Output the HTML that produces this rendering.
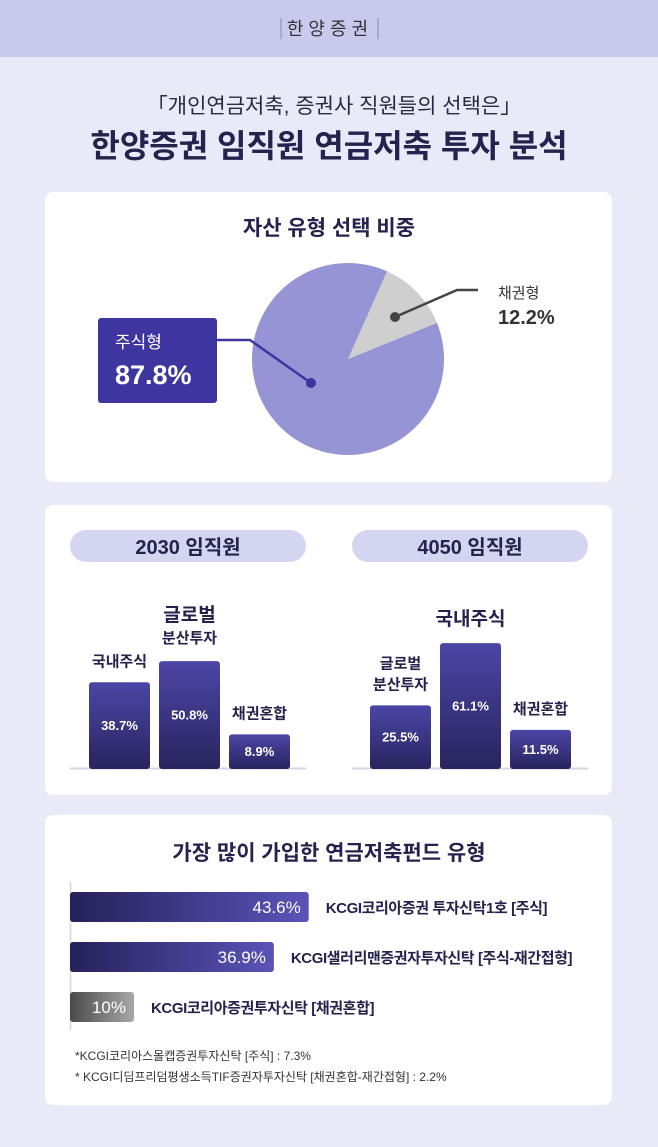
<!DOCTYPE html>
<html><head><meta charset="utf-8"><style>
html,body{margin:0;padding:0;width:658px;height:1147px;overflow:hidden;background:#e9eaf8}
svg{display:block}
text{font-family:"Liberation Sans","Noto Sans CJK KR",sans-serif}
</style></head><body>
<svg id="s" width="658" height="1147" viewBox="0 0 658 1147" xmlns="http://www.w3.org/2000/svg">
<defs>
<linearGradient id="vg" x1="0" y1="0" x2="0" y2="1"><stop offset="0" stop-color="#4c46a6"/><stop offset="1" stop-color="#28245e"/></linearGradient>
<linearGradient id="hg" x1="0" y1="0" x2="1" y2="0"><stop offset="0" stop-color="#25215a"/><stop offset="1" stop-color="#5a54b8"/></linearGradient>
<linearGradient id="gg" x1="0" y1="0" x2="1" y2="0"><stop offset="0" stop-color="#4a4a4a"/><stop offset="1" stop-color="#a8a8a8"/></linearGradient>
</defs>
<rect x="0" y="0" width="658" height="57" fill="#c8c9ec"/>
<g>
<line x1="281" y1="18" x2="281" y2="39" stroke="#8a8aa8" stroke-width="1"/>
<line x1="378" y1="18" x2="378" y2="39" stroke="#8a8aa8" stroke-width="1"/>
<text x="330" y="35" text-anchor="middle" font-size="18" fill="#333" letter-spacing="5">한양증권</text>
</g>
<text x="334" y="113" text-anchor="middle" font-size="21" fill="#2a2a40">「개인연금저축, 증권사 직원들의 선택은」</text>
<text x="329" y="157" text-anchor="middle" font-size="32" font-weight="bold" fill="#24234e">한양증권 임직원 연금저축 투자 분석</text>

<rect x="45" y="192" width="567" height="290" rx="8" fill="#fff"/>
<rect x="45" y="505" width="567" height="290" rx="8" fill="#fff"/>
<rect x="45" y="815" width="567" height="290" rx="8" fill="#fff"/>

<text x="329" y="235" text-anchor="middle" font-size="21" font-weight="bold" fill="#24234e">자산 유형 선택 비중</text>
<g id="pie"></g>
<rect x="98" y="318" width="119" height="85" rx="3" fill="#3e35a0"/>
<text x="115" y="348" font-size="17" fill="#fff">주식형</text>
<text x="115" y="384" font-size="27" font-weight="bold" fill="#fff">87.8%</text>
<polyline points="217,340 250,340 311,383" fill="none" stroke="#3e35a0" stroke-width="2.5"/>
<circle cx="311" cy="383" r="5" fill="#3e35a0"/>
<polyline points="395,317 457,290 478,290" fill="none" stroke="#444" stroke-width="2.5"/>
<circle cx="395" cy="317" r="5" fill="#444"/>
<text x="498" y="298" font-size="15" fill="#333">채권형</text>
<text x="498" y="324" font-size="20" font-weight="bold" fill="#333">12.2%</text>

<rect x="70" y="530" width="236" height="32" rx="16" fill="#d4d5f0"/>
<text x="188" y="554" text-anchor="middle" font-size="20" font-weight="bold" fill="#24234e">2030 임직원</text>
<rect x="352" y="530" width="236" height="32" rx="16" fill="#d4d5f0"/>
<text x="470" y="554" text-anchor="middle" font-size="20" font-weight="bold" fill="#24234e">4050 임직원</text>
<line x1="70" y1="768.5" x2="306" y2="768.5" stroke="#d6d6de" stroke-width="2"/>
<line x1="352" y1="768.5" x2="588" y2="768.5" stroke="#d6d6de" stroke-width="2"/>
<g id="bars"></g>

<text x="329" y="860" text-anchor="middle" font-size="21" font-weight="bold" fill="#24234e">가장 많이 가입한 연금저축펀드 유형</text>
<line x1="70.5" y1="882" x2="70.5" y2="1030" stroke="#d6d6de" stroke-width="1.5"/>
<g id="hbars"></g>
<text x="75" y="1060" font-size="12" fill="#333">*KCGI코리아스몰캡증권투자신탁 [주식] : 7.3%</text>
<text x="75" y="1081" font-size="12" fill="#333">* KCGI디딤프리덤평생소득TIF증권자투자신탁 [채권혼합-재간접형] :  2.2%</text>
</svg>
<script>
const pieLabels = ["채권형","주식형"];
const pieValues = [12.2, 87.8];
const groupA = ["국내주식","글로벌 분산투자","채권혼합"];
const valuesA = [38.7, 50.8, 8.9];
const groupB = ["글로벌 분산투자","국내주식","채권혼합"];
const valuesB = [25.5, 61.1, 11.5];
const fundNames = ["KCGI코리아증권 투자신탁1호 [주식]","KCGI샐러리맨증권자투자신탁 [주식-재간접형]","KCGI코리아증권투자신탁 [채권혼합]"];
const fundValues = [43.6, 36.9, 10];

const NS="http://www.w3.org/2000/svg";
function mk(tag, attrs, parent){const e=document.createElementNS(NS,tag);for(const k in attrs)e.setAttribute(k,attrs[k]);parent.appendChild(e);return e;}

const cx=348, cy=359, r=96, startDeg=24;
const pie=document.getElementById('pie');
const total=pieValues.reduce((a,b)=>a+b,0);
let ang=startDeg;
const pieColors=["#cfcfcf","#9595d5"];
pieValues.forEach((v,i)=>{
  const a0=ang*Math.PI/180, a1=(ang+v/total*360)*Math.PI/180;
  const x0=cx+r*Math.sin(a0), y0=cy-r*Math.cos(a0), x1=cx+r*Math.sin(a1), y1=cy-r*Math.cos(a1);
  const large=(v/total>0.5)?1:0;
  const p=mk('path',{d:`M${cx},${cy} L${x0},${y0} A${r},${r} 0 ${large} 1 ${x1},${y1} Z`,fill:pieColors[i]},pie);
  
  
  ang+=v/total*360;
});

const base=768;
function barH(v){return 18+1.75*v;}
const bars=document.getElementById('bars');
function drawGroup(labels, vals, x0, key){
  const maxI=vals.indexOf(Math.max(...vals));
  vals.forEach((v,i)=>{
    const x=x0+i*70, h=barH(v), top=base-h;
    const b=mk('rect',{x:x,y:top,width:61,height:h+1,rx:3,fill:'url(#vg)'},bars);
    
    
    const t=mk('text',{x:x+30.5,y:top+h/2+5,'text-anchor':'middle','font-size':13,'font-weight':'bold',fill:'#fff'},bars);
    t.textContent=v+'%';
    
    
    const parts=labels[i].split(' ');
    const big=(i===maxI);
    const fs=big?19:15;
    const lines=parts.length;
    parts.forEach((p,j)=>{
      let y;
      if(big){ y = top-18-(lines-1-j)*22; }
      else { y = top-16-(lines-1-j)*21; }
      const lt=mk('text',{x:x+30.5,y:y,'text-anchor':'middle','font-size':(big&&j>0)?15:fs,'font-weight':'bold',fill:'#24234e'},bars);
      lt.textContent=p;
      
      
    });
  });
}
drawGroup(groupA, valuesA, 89, '2030');
drawGroup(groupB, valuesB, 370, '4050');

const hb=document.getElementById('hbars');
function barW(v){return 12+5.2*v;}
fundValues.forEach((v,i)=>{
  const y=892+i*50, w=barW(v);
  const gray=(i===fundValues.length-1);
  const b=mk('rect',{x:70,y:y,width:w,height:30,rx:3,fill:gray?'url(#gg)':'url(#hg)'},hb);
  
  
  const t=mk('text',{x:70+w-8,y:y+21,'text-anchor':'end','font-size':17,fill:'#fff'},hb);
  t.textContent=v+'%';
  
  
  const l=mk('text',{x:70+w+17,y:y+21,'font-size':15,'font-weight':'bold',fill:'#24234e','letter-spacing':'-0.4'},hb);
  l.textContent=fundNames[i];
  
  
});
</script>
</body></html>
